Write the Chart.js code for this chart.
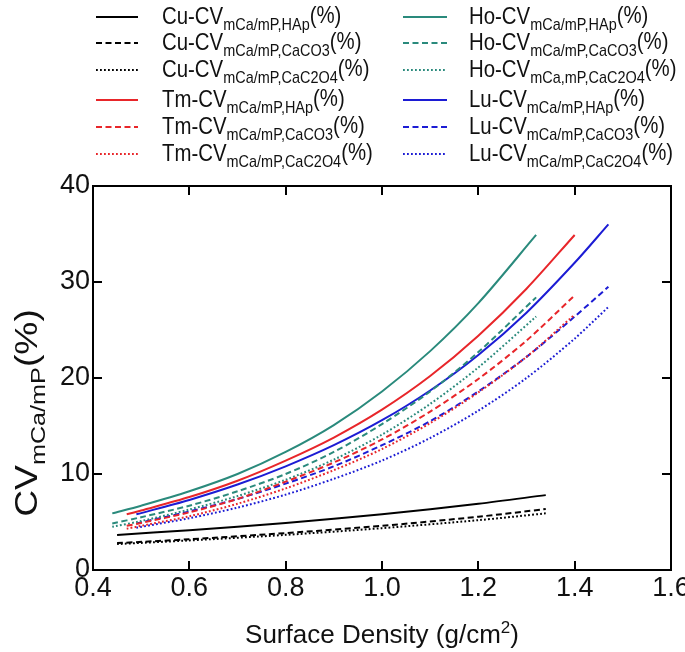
<!DOCTYPE html>
<html>
<head>
<meta charset="utf-8">
<script src="https://cdn.jsdelivr.net/npm/chart.js@4"></script>
<style>
  body { margin: 0; background: #fff; }
  canvas { display: block; }
</style>
</head>
<body>
<canvas id="grafico" width="685" height="652"></canvas>
<script>
// CV mCa/mP vs densidade superficial
const xTicks = [0.4, 0.6, 0.8, 1.0, 1.2, 1.4, 1.6];
const yTicks = [0, 10, 20, 30, 40];

const cuX = [0.45, 0.6, 0.8, 1.0, 1.2, 1.34];
const cuHAp = [3.65, 4.15, 4.9, 5.8, 6.9, 7.8];
const cuCaCO3 = [2.8, 3.2, 3.85, 4.6, 5.55, 6.35];
const cuCaC2O4 = [2.7, 3.08, 3.66, 4.36, 5.19, 5.9];

const tmX = [0.47, 0.5, 0.6, 0.7, 0.8, 0.9, 1.0, 1.1, 1.2, 1.3, 1.4];
const tmHAp = [5.8, 6.2, 7.6, 9.3, 11.4, 13.8, 16.7, 20.2, 24.4, 29.3, 34.9];
const tmCaCO3 = [4.6, 4.9, 6.0, 7.4, 9.2, 11.2, 13.6, 16.5, 19.9, 23.9, 28.6];
const tmCaC2O4 = [4.3, 4.6, 5.6, 6.9, 8.5, 10.4, 12.6, 15.3, 18.5, 22.2, 26.6];

const hoX = [0.44, 0.5, 0.6, 0.7, 0.8, 0.9, 1.0, 1.1, 1.2, 1.32];
const hoHAp = [5.9, 6.7, 8.2, 10.0, 12.3, 15.1, 18.6, 22.8, 27.8, 34.9];
const hoCaCO3 = [4.85, 5.5, 6.7, 8.2, 10.0, 12.3, 15.2, 18.6, 22.7, 28.4];
const hoCaC2O4 = [4.5, 5.1, 6.3, 7.7, 9.4, 11.5, 14.1, 17.3, 21.1, 26.4];

const luX = [0.49, 0.6, 0.7, 0.8, 0.9, 1.0, 1.1, 1.2, 1.3, 1.4, 1.47];
const luHAp = [5.8, 7.3, 8.9, 10.8, 13.0, 15.6, 18.7, 22.4, 26.8, 32.0, 36.0];
const luCaCO3 = [4.85, 6.1, 7.4, 9.0, 10.8, 13.0, 15.5, 18.6, 22.2, 26.4, 29.5];
const luCaC2O4 = [4.4, 5.4, 6.5, 7.85, 9.5, 11.4, 13.75, 16.6, 20.0, 24.1, 27.4];

const elementos = ['Cu', 'Tm', 'Ho', 'Lu'];
const cores = ['#000000', '#e8262a', '#2a8a7c', '#1c1cd4'];
const subscritos = [
  'mCa/mP,HAp', 'mCa/mP,CaCO3', 'mCa/mP,CaC2O4',
  'mCa/mP,HAp', 'mCa/mP,CaCO3', 'mCa/mP,CaC2O4',
  'mCa/mP,HAp', 'mCa/mP,CaCO3', 'mCa,mP,CaC2O4',
  'mCa/mP,HAp', 'mCa/mP,CaCO3', 'mCa/mP,CaC2O4',
];

const series = [
  [cuX, cuHAp], [cuX, cuCaCO3], [cuX, cuCaC2O4],
  [tmX, tmHAp], [tmX, tmCaCO3], [tmX, tmCaC2O4],
  [hoX, hoHAp], [hoX, hoCaCO3], [hoX, hoCaC2O4],
  [luX, luHAp], [luX, luCaCO3], [luX, luCaC2O4],
];

const tracos = [[], [6, 3.5], [1.8, 2.2]];
const FONTE = '"Liberation Sans", Arial, sans-serif';

const datasets = series.map(([xs, ys], i) => ({
  label: elementos[Math.floor(i / 3)] + '-CV' + subscritos[i],
  data: xs.map((x, k) => ({ x, y: ys[k] })),
  showLine: true,
  pointRadius: 0,
  borderWidth: 2,
  borderColor: cores[Math.floor(i / 3)],
  borderDash: tracos[i % 3],
  tension: 0.3,
  fill: false,
}));

function larguraRica(ctx, partes) {
  let w = 0;
  partes.forEach(([t, size]) => {
    ctx.font = `${size}px ${FONTE}`;
    w += ctx.measureText(t).width;
  });
  return w;
}

function desenhaRico(ctx, partes, x, y, sx) {
  ctx.save();
  ctx.translate(x, y);
  ctx.scale(sx, 1);
  let cx = 0;
  partes.forEach(([t, size, dy]) => {
    ctx.font = `${size}px ${FONTE}`;
    ctx.fillText(t, cx, dy);
    cx += ctx.measureText(t).width;
  });
  ctx.restore();
}

const moldura = {
  id: 'moldura',
  afterDraw(chart) {
    const ctx = chart.ctx;
    const a = chart.chartArea;
    const xs = chart.scales.x;
    const ys = chart.scales.y;
    ctx.save();
    ctx.strokeStyle = '#000';
    ctx.lineWidth = 2;
    ctx.strokeRect(a.left, a.top, a.right - a.left, a.bottom - a.top);
    ctx.beginPath();
    xTicks.slice(1, -1).forEach((v) => {
      const px = Math.round(xs.getPixelForValue(v));
      ctx.moveTo(px, a.bottom); ctx.lineTo(px, a.bottom - 9);
      ctx.moveTo(px, a.top); ctx.lineTo(px, a.top + 9);
    });
    yTicks.slice(1, -1).forEach((v) => {
      const py = Math.round(ys.getPixelForValue(v));
      ctx.moveTo(a.left, py); ctx.lineTo(a.left + 9, py);
      ctx.moveTo(a.right, py); ctx.lineTo(a.right - 9, py);
    });
    ctx.stroke();

    // titulos dos eixos
    ctx.fillStyle = '#111';
    ctx.textBaseline = 'alphabetic';
    const tx = [['Surface Density (g/cm', 26, 0], ['2', 17, -10], [')', 26, 0]];
    const wx = larguraRica(ctx, tx);
    desenhaRico(ctx, tx, 382 - wx / 2, 643, 1);

    const ty = [['CV', 31, 0], ['mCa/mP', 21, 8], ['(%)', 31, 0]];
    const wy = larguraRica(ctx, ty) * 1.2;
    ctx.save();
    ctx.translate(37, 413);
    ctx.rotate(-Math.PI / 2);
    desenhaRico(ctx, ty, -wy / 2, 0, 1.2);
    ctx.restore();

    // legenda
    const linhas = [17, 43, 70, 100, 127, 154];
    datasets.forEach((ds, i) => {
      const col = i < 6 ? 0 : 1;
      const y = linhas[i % 6];
      const x0 = col === 0 ? 96 : 403;
      const x1 = col === 0 ? 138 : 447;
      const xt = col === 0 ? 162 : 469;
      ctx.beginPath();
      ctx.setLineDash(ds.borderDash);
      ctx.strokeStyle = ds.borderColor;
      ctx.lineWidth = 2;
      ctx.moveTo(x0, y); ctx.lineTo(x1, y);
      ctx.stroke();
      ctx.setLineDash([]);
      const partes = [[elementos[Math.floor(i / 3)] + '-CV', 24, 0], [subscritos[i], 17, 6], ['(%)', 24, -1]];
      desenhaRico(ctx, partes, xt, y + 7, 0.85);
    });
    ctx.restore();
  },
};

new Chart(document.getElementById('grafico'), {
  type: 'scatter',
  data: { datasets },
  options: {
    responsive: false,
    animation: false,
    layout: { padding: { top: 186, right: 14, left: 0, bottom: 0 } },
    plugins: { legend: { display: false }, tooltip: { enabled: false } },
    scales: {
      x: {
        type: 'linear',
        min: 0.4,
        max: 1.6,
        afterBuildTicks: (s) => { s.ticks = xTicks.map((v) => ({ value: v })); },
        afterFit: (s) => { s.height = 82; s.paddingLeft = 0; s.paddingRight = 0; },
        grid: { display: false, drawTicks: false },
        border: { display: false },
        ticks: {
          padding: 2,
          color: '#111',
          font: { family: FONTE, size: 27 },
          callback: (v) => Number(v).toFixed(1),
        },
      },
      y: {
        min: 0,
        max: 40,
        afterBuildTicks: (s) => { s.ticks = yTicks.map((v) => ({ value: v })); },
        afterFit: (s) => { s.width = 93; s.paddingTop = 0; s.paddingBottom = 0; },
        grid: { display: false, drawTicks: false },
        border: { display: false },
        ticks: {
          padding: 3,
          color: '#111',
          font: { family: FONTE, size: 27 },
        },
      },
    },
  },
  plugins: [moldura],
});
</script>
</body>
</html>
